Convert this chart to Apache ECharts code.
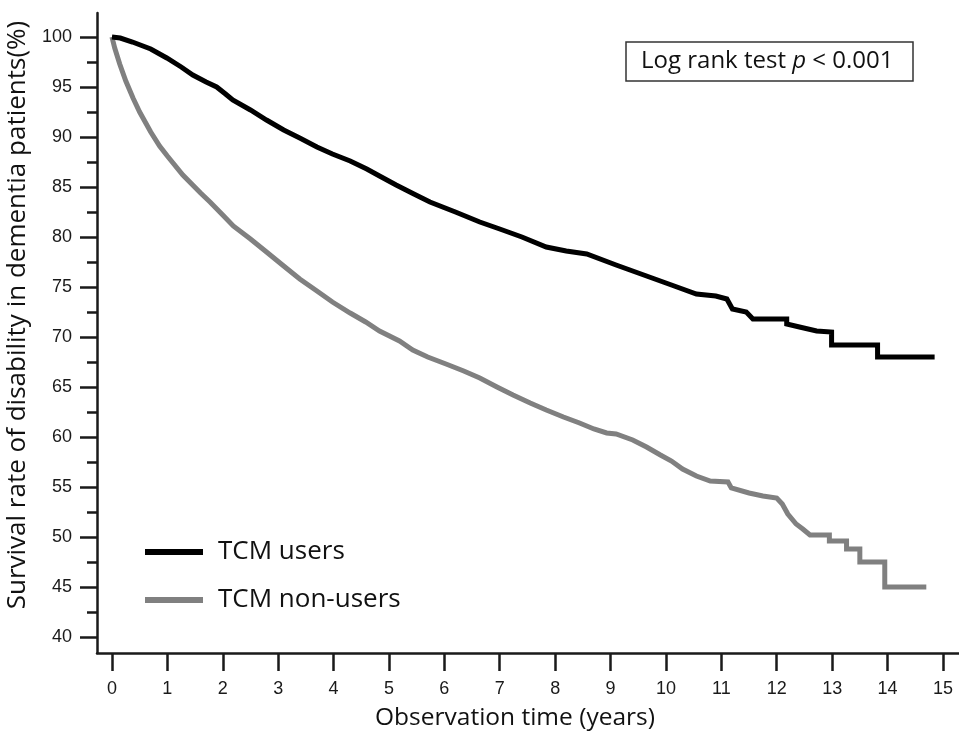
<!DOCTYPE html>
<html>
<head>
<meta charset="utf-8">
<title>Survival rate of disability</title>
<script src="https://cdn.jsdelivr.net/npm/echarts@6/dist/echarts.min.js"></script>
<style>
  html, body { margin: 0; padding: 0; background: #fff; }
  #chart { width: 959px; height: 732px; }
</style>
</head>
<body>
<div id="chart"></div>
<script>
// tick values
const yearTicks = [0, 1, 2, 3, 4, 5, 6, 7, 8, 9, 10, 11, 12, 13, 14, 15]
const rateTicks = [40, 45, 50, 55, 60, 65, 70, 75, 80, 85, 90, 95, 100]
const rateMinorTicks = [42.5, 47.5, 52.5, 57.5, 62.5, 67.5, 72.5, 77.5, 82.5, 87.5, 92.5, 97.5]

// [years, survival %], drops of the tail written as pairs
const usersCurve = [
  [0, 100], [0.15, 99.9], [0.37, 99.5], [0.7, 98.8], [0.99, 97.9], [1.25, 97.0],
  [1.46, 96.2], [1.7, 95.5], [1.89, 95.0], [2.05, 94.3], [2.18, 93.7], [2.5, 92.7],
  [2.79, 91.7], [3.1, 90.7], [3.39, 89.9], [3.7, 89.0], [3.98, 88.3], [4.3, 87.6],
  [4.6, 86.8], [4.83, 86.1], [5.13, 85.2], [5.45, 84.3], [5.74, 83.5], [6.2, 82.5],
  [6.64, 81.5], [7.0, 80.8], [7.4, 80.0], [7.84, 79.0], [8.2, 78.6], [8.57, 78.3],
  [9.1, 77.2], [9.65, 76.1], [10.1, 75.2], [10.55, 74.3], [10.9, 74.1], [11.1, 73.8],
  [11.2, 72.8], [11.45, 72.5], [11.57, 71.8], [12.18, 71.8], [12.18, 71.3], [12.41, 71.0],
  [12.72, 70.6], [12.99, 70.5], [12.99, 69.2], [13.82, 69.2], [13.82, 68.0], [14.85, 68.0],
]
const nonUsersCurve = [
  [0, 100], [0.05, 98.9], [0.14, 97.3], [0.25, 95.6], [0.38, 93.9], [0.5, 92.5],
  [0.7, 90.5], [0.86, 89.1], [1.0, 88.1], [1.28, 86.2], [1.6, 84.4], [1.77, 83.5],
  [2.0, 82.2], [2.19, 81.1], [2.5, 79.8], [2.79, 78.5], [3.1, 77.1], [3.39, 75.8],
  [3.7, 74.6], [3.98, 73.5], [4.3, 72.4], [4.58, 71.5], [4.83, 70.6], [5.19, 69.6],
  [5.43, 68.7], [5.7, 68.0], [6.03, 67.3], [6.35, 66.6], [6.64, 65.9], [6.95, 65.0],
  [7.24, 64.2], [7.55, 63.4], [7.84, 62.7], [8.15, 62.0], [8.44, 61.4], [8.7, 60.8],
  [8.93, 60.4], [9.1, 60.3], [9.4, 59.7], [9.65, 59.0], [9.9, 58.2], [10.1, 57.6],
  [10.3, 56.8], [10.55, 56.1], [10.8, 55.6], [11.12, 55.5], [11.18, 54.9], [11.5, 54.4],
  [11.75, 54.1], [12.0, 53.9], [12.1, 53.3], [12.2, 52.3], [12.35, 51.3], [12.47, 50.8],
  [12.6, 50.2], [12.95, 50.2], [12.95, 49.6], [13.26, 49.6], [13.26, 48.8], [13.5, 48.8],
  [13.5, 47.5], [13.95, 47.5], [13.95, 45.0], [14.7, 45.0],
]

const seriesNames = ['TCM users', 'TCM non-users']
const seriesColors = ['#000000', '#808080']

const axisColor = '#1a1a1a'
const tickFont = 'Liberation Sans, Arial, sans-serif'
const textFont = 'Open Sans, Noto Sans, sans-serif'

const chart = echarts.init(document.getElementById('chart'), null, { renderer: 'canvas' })

chart.setOption({
  animation: false,
  backgroundColor: '#fff',
  title: {
    left: 626,
    top: 40,
    padding: [7, 20, 8, 15],
    borderColor: '#333',
    borderWidth: 1.5,
    text: '{n|Log rank test }{i|p}{n| < 0.001}',
    textStyle: {
      fontWeight: 'normal',
      rich: {
        n: { fontFamily: textFont, fontSize: 24, fontWeight: 'normal', color: '#111', lineHeight: 28 },
        i: { fontFamily: textFont, fontSize: 24, fontWeight: 'normal', color: '#111', fontStyle: 'italic', lineHeight: 28 },
      },
    },
  },
  legend: {
    orient: 'vertical',
    left: 140,
    top: 532,
    icon: 'rect',
    itemWidth: 58,
    itemHeight: 6,
    itemGap: 18,
    data: seriesNames,
    textStyle: {
      fontFamily: textFont,
      fontSize: 26,
      color: '#111',
      lineHeight: 30,
      padding: [0, 0, 0, 10],
    },
  },
  grid: {
    left: 97,
    right: 0,
    top: 13,
    bottom: 79,
    outerBoundsMode: 'none',
  },
  xAxis: {
    type: 'value',
    min: -0.27,
    max: 15.29,
    name: 'Observation time (years)',
    nameLocation: 'middle',
    nameGap: 53,
    nameTextStyle: {
      fontFamily: textFont,
      fontSize: 24.5,
      color: '#111',
      padding: [0, 26, 0, 0],
    },
    splitLine: { show: false },
    axisLine: { onZero: false, lineStyle: { color: axisColor, width: 2.5 } },
    axisTick: {
      customValues: yearTicks,
      length: 18,
      lineStyle: { color: axisColor, width: 2.5 },
    },
    axisLabel: {
      customValues: yearTicks,
      margin: 27,
      fontFamily: tickFont,
      fontSize: 18,
      color: axisColor,
    },
  },
  yAxis: [
    {
      type: 'value',
      min: 38.4,
      max: 102.4,
      name: 'Survival rate of disability in dementia patients(%)',
      nameLocation: 'middle',
      nameGap: 57,
      nameTextStyle: {
        fontFamily: textFont,
        fontSize: 26,
        color: '#111',
        padding: [0, 0, 0, 36],
      },
      splitLine: { show: false },
      axisLine: { show: true, onZero: false, lineStyle: { color: axisColor, width: 2.5 } },
      axisTick: {
        customValues: rateTicks,
        length: 17,
        lineStyle: { color: axisColor, width: 2.5 },
      },
      axisLabel: {
        customValues: rateTicks,
        margin: 25,
        fontFamily: tickFont,
        fontSize: 18,
        color: axisColor,
      },
    },
    {
      // minor ticks only
      type: 'value',
      min: 38.4,
      max: 102.4,
      position: 'left',
      offset: 0,
      splitLine: { show: false },
      axisLine: { show: false, onZero: false },
      axisTick: {
        customValues: rateMinorTicks,
        length: 10,
        lineStyle: { color: axisColor, width: 2.5 },
      },
      axisLabel: { show: false },
    },
  ],
  series: [
    {
      name: seriesNames[0],
      type: 'line',
      data: usersCurve,
      showSymbol: false,
      color: seriesColors[0],
      lineStyle: { width: 5, color: seriesColors[0], join: 'miter' },
      z: 3,
    },
    {
      name: seriesNames[1],
      type: 'line',
      data: nonUsersCurve,
      showSymbol: false,
      color: seriesColors[1],
      lineStyle: { width: 5, color: seriesColors[1], join: 'miter' },
      z: 2,
    },
  ],
})
</script>
</body>
</html>
